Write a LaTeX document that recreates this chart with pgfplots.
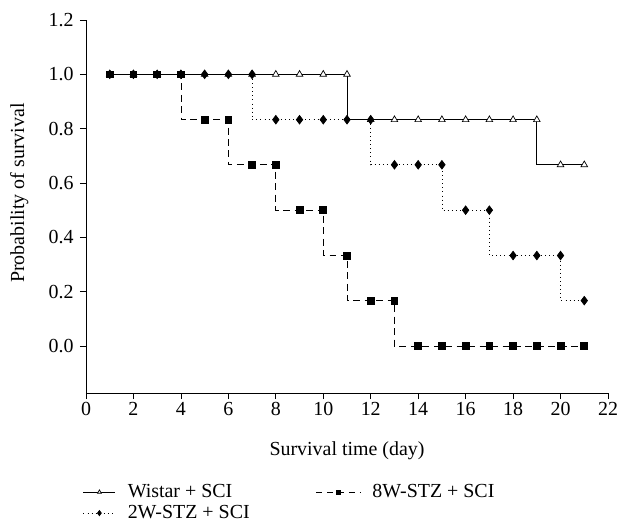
\documentclass[border=0pt]{standalone}
\usepackage{pgfplots}
\pgfplotsset{compat=1.18}
\usepackage{fontspec}
\setmainfont{Liberation Serif}
\begin{document}
\begin{tikzpicture}
\useasboundingbox (-86bp,-128bp) rectangle (535bp,393bp);
\begin{axis}[
  at={(0,0)}, anchor=south west,
  scale only axis, width=522bp, height=373bp,
  xmin=0, xmax=22, ymin=-0.173, ymax=1.2,
  axis x line=bottom, axis y line=left,
  axis line style={-, line width=0.8pt},
  tick align=outside, major tick length=6bp,
  tick style={line width=0.8pt, black},
  xtick={0,2,...,22}, ytick={0,0.2,...,1.2},
  /pgf/number format/assume math mode=true,
  yticklabel style={xshift=-3bp, /pgf/number format/.cd, fixed, fixed zerofill, precision=1},
  ticklabel style={font=\fontsize{20}{24}\selectfont},
  label style={font=\fontsize{20}{24}\selectfont},
  xlabel={Survival time (day)}, ylabel={Probability of survival},
  xlabel style={at={(axis description cs:0.5,-0.155)}, anchor=center},
  ylabel style={at={(axis description cs:-0.128,0.536)}, anchor=center},
  legend columns=2,
  legend cell align=left,
  legend style={draw=none, fill=none, inner sep=0pt, at={(axis description cs:-0.006,-0.241)}, anchor=north west,
    font=\fontsize{20}{24}\selectfont, row sep=3bp,
    nodes={inner sep=0pt, text height=14bp, text depth=4bp},
    /tikz/every odd column/.append style={column sep=12bp},
    /tikz/every even column/.append style={column sep=66bp}},
  legend image code/.code={\draw[mark repeat=2, mark phase=2] plot coordinates {(0bp,0bp) (16bp,0bp) (32bp,0bp)};},
]
% Wistar + SCI
\addplot[forget plot, const plot mark right, black, line width=0.7pt, mark=triangle*, mark size=3.8bp,
  mark options={fill=white, solid, line width=0.7pt}] coordinates {
(1,1) (2,1) (3,1) (4,1) (5,1) (6,1) (7,1) (8,1) (9,1) (10,1) (11,1)
(12,0.833) (13,0.833) (14,0.833) (15,0.833) (16,0.833) (17,0.833) (18,0.833) (19,0.833)
(20,0.667) (21,0.667)
};
% 2W-STZ + SCI
\addplot[forget plot, const plot mark right, black, line width=0.7pt, dash pattern=on 0.9pt off 3.2pt, mark=diamond*, mark size=4.3bp,
  mark options={solid}] coordinates {
(1,1) (2,1) (3,1) (4,1) (5,1) (6,1) (7,1)
(8,0.833) (9,0.833) (10,0.833) (11,0.833) (12,0.833)
(13,0.667) (14,0.667) (15,0.667)
(16,0.5) (17,0.5)
(18,0.333) (19,0.333) (20,0.333)
(21,0.167)
};
% 8W-STZ + SCI
\addplot[forget plot, const plot mark right, black, line width=0.8pt, dash pattern=on 7pt off 4.5pt, mark=square*, mark size=3.4bp,
  mark options={solid}] coordinates {
(1,1) (2,1) (3,1) (4,1)
(5,0.833) (6,0.833)
(7,0.667) (8,0.667)
(9,0.5) (10,0.5)
(11,0.333)
(12,0.167) (13,0.167)
(14,0) (15,0) (16,0) (17,0) (18,0) (19,0) (20,0) (21,0)
};
\addlegendimage{black, line width=0.7pt, mark=triangle*, mark size=2.2bp, mark options={fill=white, solid}}
\addlegendentry{Wistar + SCI}
\addlegendimage{black, line width=0.8pt, dash pattern=on 6pt off 5pt, mark=square*, mark size=2bp, mark options={solid},
  legend image code/.code={\draw[mark repeat=2, mark phase=2] plot coordinates {(0bp,0bp) (22bp,0bp) (44bp,0bp)};}}
\addlegendentry{8W-STZ + SCI}
\addlegendimage{black, line width=0.7pt, dash pattern=on 0.9pt off 3.2pt, mark=diamond*, mark size=2.6bp, mark options={solid}}
\addlegendentry{2W-STZ + SCI}
\end{axis}
\end{tikzpicture}
\end{document}
